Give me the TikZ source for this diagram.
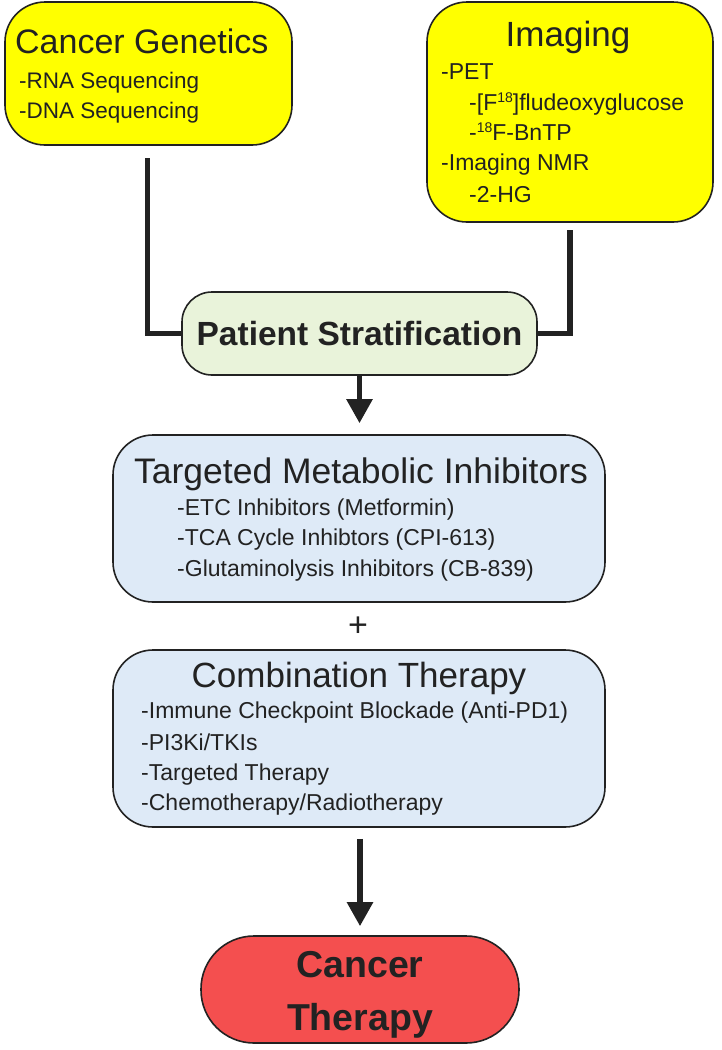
\documentclass[tikz,border=0pt]{standalone}
\usepackage{fontspec}
\setmainfont{Liberation Sans}
\usetikzlibrary{arrows.meta}
\definecolor{ink}{HTML}{222222}
\definecolor{yel}{HTML}{FFFF00}
\definecolor{grn}{HTML}{E9F3DA}
\definecolor{blu}{HTML}{DEEAF7}
\definecolor{red}{HTML}{F44F4F}
\newcommand{\supnum}[1]{\raisebox{0.33em}{\fontsize{14}{14}\selectfont #1}}
\tikzset{
  box/.style={draw=ink, line width=1.6pt, rectangle, inner sep=0pt},
  conn/.style={draw=ink, line width=5.5pt},
  arr/.style={draw=ink, line width=5.5pt, -{Triangle[width=25pt,length=24pt]}},
  title/.style={text=ink, inner sep=0pt, anchor=base, font=\fontsize{35}{40}\selectfont},
  item/.style={text=ink, inner sep=0pt, anchor=base west, font=\fontsize{23}{27}\selectfont},
  btitle/.style={text=ink, inner sep=0pt, anchor=base, font=\bfseries\fontsize{33.5}{40}\selectfont},
}
\begin{document}
\begin{tikzpicture}[x=1pt,y=-1pt]
\useasboundingbox[fill=white] (0,0) rectangle (722,1050);
% boxes
\node[box, fill=yel, rounded corners=40pt, minimum width=287pt, minimum height=143pt] (cg) at (148.5,73.5) {};
\node[box, fill=yel, rounded corners=40pt, minimum width=286pt, minimum height=220pt] (im) at (570,112) {};
\node[box, fill=grn, rounded corners=30pt, minimum width=355pt, minimum height=83pt] (ps) at (359.5,333.5) {};
\node[box, fill=blu, rounded corners=40pt, minimum width=492pt, minimum height=167pt] (tmi) at (359,518.5) {};
\node[box, fill=blu, rounded corners=40pt, minimum width=492pt, minimum height=177pt] (ct) at (359,738.5) {};
\node[box, fill=red, rounded corners=53pt, minimum width=318pt, minimum height=107pt] (th) at (360,989.5) {};
% texts
\node[title, anchor=base west, font=\fontsize{34}{40}\selectfont] (cgt) at (15,53) {Cancer Genetics};
\node[item, font=\fontsize{22.5}{27}\selectfont] (cg1) at (19,88) {-RNA Sequencing};
\node[item, font=\fontsize{22.5}{27}\selectfont] (cg2) at (19,118) {-DNA Sequencing};
\node[title] (imt) at (568,46) {Imaging};
\node[item] (im1) at (441,79) {-PET};
\node[item] (im2) at (469,110) {-[F\supnum{18}]fludeoxyglucose};
\node[item] (im3) at (469,140) {-\supnum{18}F-BnTP};
\node[item] (im4) at (441,170) {-Imaging NMR};
\node[item] (im5) at (469,202) {-2-HG};
\node[btitle] (pst) at (359.5,345) {Patient Stratification};
\node[title, font=\fontsize{35.5}{40}\selectfont] (tmit) at (361,483) {Targeted Metabolic Inhibitors};
\node[item] (tm1) at (177,515) {-ETC Inhibitors (Metformin)};
\node[item] (tm2) at (177,545) {-TCA Cycle Inhibtors (CPI-613)};
\node[item] (tm3) at (177,576) {-Glutaminolysis Inhibitors (CB-839)};
\node[text=ink, inner sep=0pt, font=\fontsize{34}{36}\selectfont] (plus) at (358,627) {+};
\node[title] (ctt) at (359,687) {Combination Therapy};
\node[item] (ct1) at (141,718) {-Immune Checkpoint Blockade (Anti-PD1)};
\node[item] (ct2) at (141,750) {-PI3Ki/TKIs};
\node[item] (ct3) at (141,780) {-Targeted Therapy};
\node[item] (ct4) at (141,810) {-Chemotherapy/Radiotherapy};
\node[btitle, font=\bfseries\fontsize{37.5}{40}\selectfont] (tht1) at (360,977) {Cancer};
\node[btitle, font=\bfseries\fontsize{37.5}{40}\selectfont] (tht2) at (360,1030) {Therapy};
% connectors
\coordinate (cgl) at (147.5,158);
\coordinate (imr) at (570,230);
\draw[conn] (cgl) |- (ps.west);
\draw[conn] (imr) |- (ps.east);
\draw[arr, shorten >=11pt] (ps.south) -- (ps.south |- tmi.north);
\draw[arr, shorten <=11pt, shorten >=9pt] (ct.south -| th.north) -- (th.north);
\end{tikzpicture}
\end{document}
